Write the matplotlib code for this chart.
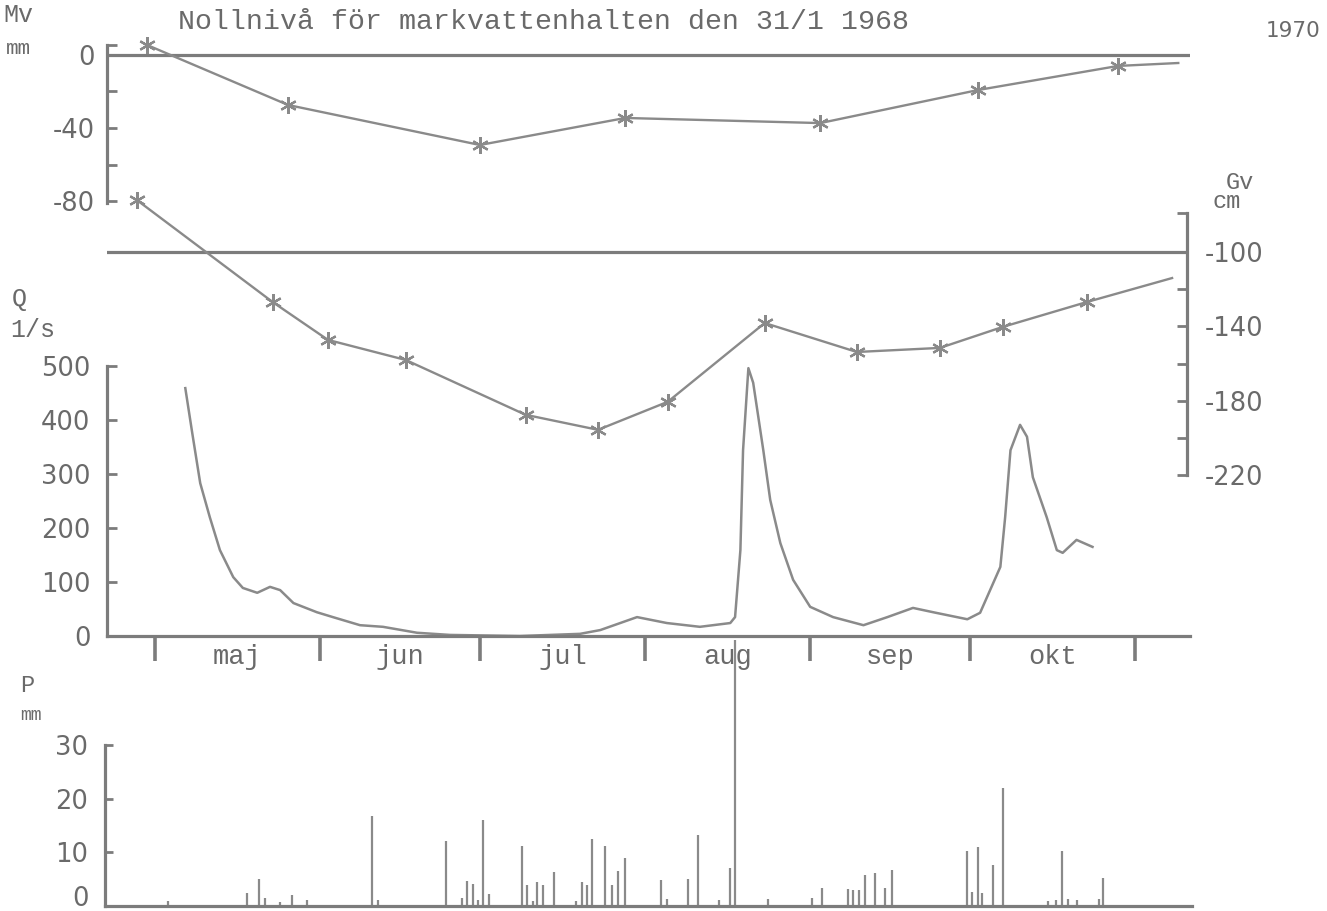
import matplotlib
matplotlib.use("Agg")
import matplotlib.pyplot as plt
import matplotlib.transforms as mtransforms

# ---------------- data (x = day of year 1970) ----------------
month_names = ["maj", "jun", "jul", "aug", "sep", "okt"]
month_starts = [121, 152, 182, 213, 244, 274, 305]

# Mv: soil water content relative to 31/1 1968 (mm)
mv_day = [119.5, 146.0, 182.0, 209.3, 245.9, 275.5, 301.8, 313.1]
mv_val = [5.5, -27.4, -49.3, -34.5, -37.3, -19.2, -6.0, -4.4]

# Gv: groundwater level (cm)
gv_day = [117.6, 143.1, 153.5, 168.1, 190.6, 204.2, 217.3, 235.5, 252.8,
          268.4, 280.2, 296.0, 312.0]
gv_val = [-72.0, -126.9, -147.3, -158.1, -187.6, -195.7, -180.6, -138.2,
          -153.8, -151.6, -140.3, -126.9, -114.0]

# Q: runoff (l/s)
q_day = [126.7, 128.0, 129.5, 131.3, 133.2, 135.7, 137.5, 140.2, 142.6, 144.5,
         147.0, 151.4, 154.4, 159.5, 163.8, 170.2, 176.4, 189.5, 200.8, 204.6,
         211.5, 217.1, 223.3, 229.0, 229.9, 230.9, 231.4, 232.4, 233.3, 235.2,
         236.5, 238.4, 240.8, 244.0, 248.3, 254.0, 258.5, 263.3, 267.1, 273.5,
         275.9, 279.7, 280.6, 281.6, 283.4, 284.7, 285.8, 288.4, 290.3, 291.4,
         294.0, 297.0]
q_val = [459, 376, 283, 220, 159, 109, 89, 80, 91, 85,
         61, 44, 35, 20, 17, 6, 2, 0, 4, 11,
         35, 24, 17, 24, 35, 159, 344, 496, 469, 344,
         252, 172, 104, 54, 35, 20, 35, 52, 44, 31,
         43, 128, 220, 344, 391, 369, 294, 220, 159, 154,
         178, 165]

# P: daily precipitation (mm)
p_day = [123.4, 138.3, 140.5, 141.7, 144.5, 146.7, 149.5, 161.7, 162.9,
         175.6, 178.6, 179.6, 180.7, 181.6, 182.6, 183.7, 189.9, 190.9, 192.0,
         192.7, 193.9, 196.0, 200.1, 201.1, 202.1, 203.1, 205.5, 206.8, 207.9,
         209.3, 216.0, 217.1, 221.1, 223.0, 226.9, 229.0, 229.9, 236.1, 244.4,
         246.2, 251.1, 252.0, 253.2, 254.3, 256.2, 258.1, 259.4, 273.5, 274.4,
         275.5, 276.3, 278.3, 280.2, 288.7, 290.1, 291.3, 292.4, 294.1, 298.2,
         299.0]
p_val = [1.0, 2.4, 5.0, 1.5, 0.7, 2.0, 1.1, 16.8, 1.1,
         12.1, 1.5, 4.7, 4.1, 1.1, 16.0, 2.2, 11.2, 3.9, 0.9,
         4.5, 3.9, 6.3, 0.9, 4.5, 3.9, 12.5, 11.2, 3.9, 6.5,
         8.9, 4.8, 1.3, 5.0, 13.2, 1.1, 7.1, 49.5, 1.3, 1.5,
         3.4, 3.2, 3.0, 3.0, 5.8, 6.1, 3.4, 6.7, 10.2, 2.6,
         11.0, 2.4, 7.6, 22.0, 0.9, 1.1, 10.2, 1.3, 1.1, 1.3,
         5.2]

# ---------------- styling ----------------
W, H = 1327, 911
plt.rcParams["axes.unicode_minus"] = False
LINE = "#8a8a8a"
AXC = "#7c7c7c"
TXT = "#6a6a6a"
MONO = "Liberation Mono"
NUM = "DejaVu Sans"
NUMSIZE = 18.5


def frac(x0, y0, x1, y1):
    return [x0 / W, 1 - y1 / H, (x1 - x0) / W, (y1 - y0) / H]


def clean(ax, keep):
    for side in ["left", "right", "top", "bottom"]:
        ax.spines[side].set_visible(side in keep)
        ax.spines[side].set_color(AXC)
        ax.spines[side].set_linewidth(2.3)
    ax.patch.set_alpha(0)


fig = plt.figure(figsize=(W / 100, H / 100), dpi=100)
fig.patch.set_facecolor("white")

# ---------------- Mv panel ----------------
ax_mv = fig.add_axes(frac(107, 40, 1190, 212))
clean(ax_mv, ["left"])
ax_mv.set_xlim(112.0, 315.3)
ax_mv.set_ylim(-86.0, 8.2)
ax_mv.spines["left"].set_bounds(-81, 5.5)
ax_mv.set_xticks([])
ax_mv.set_yticks([0, -40, -80])
ax_mv.set_yticks([-20, -60, 5.5], minor=True)
ax_mv.tick_params(axis="y", which="both", direction="in", length=7, width=2,
                  color=AXC, labelcolor=TXT, labelsize=NUMSIZE, pad=9)
ax_mv.axhline(0, color=AXC, lw=2.3)
ax_mv.plot(mv_day, mv_val, color=LINE, lw=1.7, marker=(6, 2, 0), ms=12, mew=1.6,
           markevery=list(range(len(mv_day) - 1)), clip_on=False)

# ---------------- Gv panel ----------------
ax_gv = fig.add_axes(frac(107, 195, 1187, 480))
clean(ax_gv, ["right"])
ax_gv.set_xlim(112.0, 314.8)
ax_gv.set_ylim(-222.7, -69.3)
ax_gv.spines["right"].set_bounds(-220, -79)
ax_gv.set_xticks([])
ax_gv.yaxis.tick_right()
ax_gv.set_yticks([-100, -140, -180, -220])
ax_gv.set_yticks([-120, -160, -200, -79], minor=True)
ax_gv.tick_params(axis="y", which="both", direction="in", length=7, width=2,
                  color=AXC, labelcolor=TXT, labelsize=NUMSIZE, pad=13)
ax_gv.axhline(-100, color=AXC, lw=2.3)
ax_gv.plot(gv_day, gv_val, color=LINE, lw=1.7, marker=(6, 2, 0), ms=12, mew=1.6,
           markevery=list(range(len(gv_day) - 1)), clip_on=False)

# ---------------- Q panel ----------------
ax_q = fig.add_axes(frac(107, 360, 1190, 636))
clean(ax_q, ["left", "bottom"])
ax_q.set_xlim(112.0, 315.3)
ax_q.set_ylim(0, 511.1)
ax_q.spines["left"].set_bounds(0, 500)
ax_q.set_yticks([0, 100, 200, 300, 400, 500])
ax_q.tick_params(axis="y", direction="in", length=7, width=2, color=AXC,
                 labelcolor=TXT, labelsize=NUMSIZE, pad=12)
ax_q.set_xticks(month_starts)
ax_q.set_xticklabels([])
ax_q.tick_params(axis="x", direction="out", length=18, width=2.6, color=AXC)
ax_q.plot(q_day, q_val, color=LINE, lw=1.8, clip_on=False)
blend = mtransforms.blended_transform_factory(ax_q.transData, ax_q.transAxes)
for i, name in enumerate(month_names):
    mid = (month_starts[i] + month_starts[i + 1]) / 2
    ax_q.text(mid, -0.075, name, transform=blend, ha="center", va="center",
              fontsize=19.5, family=MONO, color=TXT)

# ---------------- P panel ----------------
ax_p = fig.add_axes(frac(105, 740, 1192, 906))
clean(ax_p, ["left", "bottom"])
ax_p.set_xlim(111.6, 315.7)
ax_p.set_ylim(0, 30.9)
ax_p.spines["left"].set_bounds(0, 30)
ax_p.set_xticks([])
ax_p.set_yticks([0, 10, 20, 30])
ax_p.tick_params(axis="y", direction="in", length=6, width=2, color=AXC,
                 labelcolor=TXT, labelsize=NUMSIZE, pad=12)
ax_p.vlines(p_day, 0, p_val, color=LINE, lw=1.6, clip_on=False)
# lift the "0" label slightly above the baseline, as in the original
zero_tick = ax_p.yaxis.get_major_ticks()[0]
zero_tick.label1.set_transform(
    zero_tick.label1.get_transform()
    + mtransforms.ScaledTranslation(0, 7 / 72, fig.dpi_scale_trans))

# ---------------- texts ----------------
def ftxt(x, y, s, size, family, ha="left"):
    fig.text(x / W, 1 - y / H, s, fontsize=size, family=family, color=TXT,
             ha=ha, va="center")


ftxt(178, 22, "Nollnivå för markvattenhalten den 31/1 1968", 20.3, MONO)
ftxt(1293, 31, "1970", 15.5, NUM, ha="center")
ftxt(3, 15, "Mv", 18, MONO)
ftxt(6, 49, "mm", 15, MONO)
ftxt(1226, 183, "Gv", 17, MONO)
ftxt(1212, 202, "cm", 17, MONO)
ftxt(12, 299, "Q", 18, MONO)
ftxt(10, 330, "1/s", 18, MONO)
ftxt(20, 686, "P", 17, MONO)
ftxt(20, 716, "mm", 13, MONO)

fig.savefig("out.png", dpi=100, facecolor="white")
